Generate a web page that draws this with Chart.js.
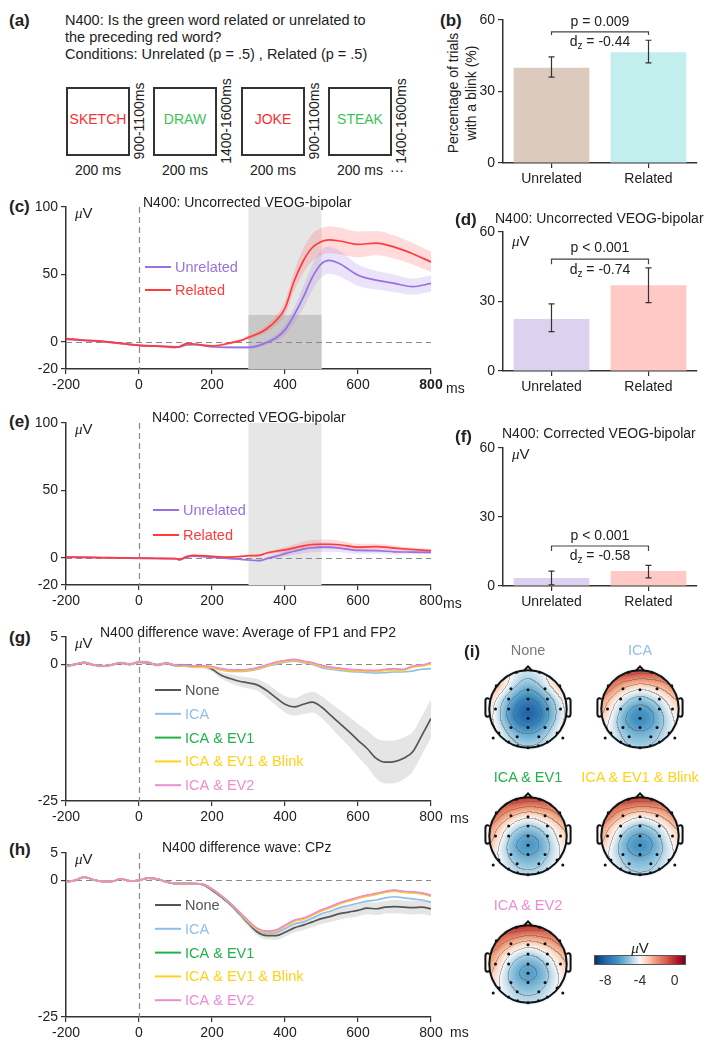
<!DOCTYPE html>
<html>
<head>
<meta charset="utf-8">
<title>N400 blink figure</title>
<script src="https://cdn.jsdelivr.net/npm/chart.js@4.4.1/dist/chart.umd.min.js"></script>
<style>
  html, body { margin: 0; padding: 0; background: #fff; }
  body { position: relative; width: 715px; height: 1049px; overflow: hidden;
         font-family: "Liberation Sans", Arial, Helvetica, sans-serif; color: #222; }
  canvas { position: absolute; }
  .t { position: absolute; white-space: nowrap; line-height: 1; }
  .rot { position: absolute; white-space: nowrap; line-height: 1; font-size: 14px;
         transform: translate(-50%, -50%) rotate(-90deg); }
  .box { position: absolute; border: 2px solid #333; box-sizing: border-box; width: 64px; height: 69px;
         display: flex; align-items: center; justify-content: center; font-size: 14px; padding-bottom: 6px; }
  .mu { font-family: "Liberation Serif", serif; font-style: italic; }
</style>
</head>
<body>
<script>
// ---------------------------------------------
// data
// ---------------------------------------------
const timeTicks = [-200, 0, 200, 400, 600, 800]

// (b) blink percentage
const barCats = ['Unrelated', 'Related']
const barTicks = [0, 30, 60]
const blinkPct = [40, 46.5]
const blinkLo = [36, 42]
const blinkHi = [44.5, 51.5]

// (d) uncorrected VEOG amplitude
const uncorrAmp = [22.5, 37]
const uncorrLo = [17, 29.5]
const uncorrHi = [29, 44.5]

// (f) corrected VEOG amplitude
const corrAmp = [3.5, 6.5]
const corrLo = [0.5, 3.5]
const corrHi = [6.5, 9]

// (c) / (e) VEOG waveforms
const tVeog = [-200, -150, -100, -50, 0, 50, 100, 110, 130, 150, 200, 250, 280, 300, 330, 350, 375, 400, 425, 450, 475, 500, 520, 550, 600, 650, 700, 750, 800]
const unrelC = [2, 1.2, 0.3, -1, -2.5, -3, -3.5, -3.8, -2.2, -2, -3.5, -4, -4, -4, -2.5, -0.3, 3, 9, 20, 33, 48, 58, 60.5, 58, 49.5, 45.8, 43.4, 41, 43.4]
const relC   = [2.5, 1.3, 0.5, -1, -2.5, -3, -4, -3.5, -1.2, -1.5, -3, -0.7, 1.2, 3.4, 6.6, 9.8, 15.7, 25, 45, 60, 70, 74.5, 75.7, 74.8, 72.3, 73.3, 70.3, 65.4, 59.3]
const unrelCsem = [0.8, 0.8, 0.8, 0.8, 0.8, 0.8, 0.8, 0.8, 0.8, 0.8, 0.9, 1, 1, 1, 1.3, 1.8, 2.5, 4, 6, 8, 9.5, 10, 10, 9.5, 8, 7, 6.5, 6, 6]
const relCsem   = [0.8, 0.8, 0.8, 0.8, 0.8, 0.8, 0.8, 0.8, 0.8, 0.8, 0.9, 1, 1.2, 1.5, 2, 2.5, 3.5, 5, 7, 9, 10, 10, 10, 10, 9.5, 9, 8.5, 8, 7.5]
const unrelE = [0.5, 0.4, 0.2, 0, -0.3, -0.4, -0.5, -1.5, 0.5, 1.3, 0.5, -0.5, -1, -1.5, -2, -0.5, 1.2, 3.2, 5, 6.6, 7.6, 8, 8, 7.3, 5.6, 5.4, 4.6, 4.4, 4.1]
const relE   = [0.7, 0.5, 0.3, 0.1, 0, -0.2, -0.5, -1, 1, 2, 1.2, 0.7, 1.2, 1.7, 2, 3.7, 5, 6, 7.5, 9, 10, 10.2, 10.2, 9.8, 8, 8.5, 7.3, 6.3, 5.4]
const semE   = [0.4, 0.4, 0.4, 0.4, 0.4, 0.4, 0.4, 0.4, 0.4, 0.4, 0.4, 0.5, 0.5, 0.6, 0.8, 1, 1.5, 2, 2.5, 3, 3.3, 3.5, 3.5, 3, 2.5, 2, 1.8, 1.5, 1.2]
const erpWindow = [300, 500]
const blinkBand = [-20, 20]

// (g) / (h) difference waves, every 25 ms from -200 to 800
const tDiff = [-200, -175, -150, -125, -100, -75, -50, -25, 0, 25, 50, 75, 100, 125, 150, 175, 200, 225, 250, 275, 300, 325, 350, 375, 400, 425, 450, 475, 500, 525, 550, 575, 600, 625, 650, 675, 700, 725, 750, 775, 800]
const noneG  = [-0.4, 0, 0.3, -0.1, -0.3, -0.1, 0.25, 0, 0.4, 0.3, -0.1, 0.2, -0.2, -0.2, -0.4, -0.4, -0.9, -2, -2.6, -3.1, -3.4, -3.8, -4.8, -6.1, -7.3, -7.8, -7.3, -6.9, -7.8, -9.3, -10.8, -12.3, -13.9, -15.4, -17.2, -17.9, -17.8, -17.2, -16, -13, -9.9]
const noneGsem = [0.3, 0.3, 0.3, 0.3, 0.3, 0.3, 0.3, 0.3, 0.3, 0.3, 0.3, 0.3, 0.3, 0.3, 0.3, 0.3, 0.4, 0.6, 0.8, 0.9, 1.0, 1.1, 1.3, 1.4, 1.5, 1.6, 1.8, 1.9, 2, 2.2, 2.5, 2.7, 3, 3.3, 3.7, 3.9, 3.9, 3.8, 3.6, 3.5, 3.5]
const icaG   = [-0.4, 0, 0.3, -0.1, -0.3, -0.1, 0.25, 0, 0.4, 0.3, -0.1, 0.2, -0.2, -0.3, -0.5, -0.5, -0.6, -1.0, -1.3, -1.3, -1.2, -0.9, -0.4, 0, 0.4, 0.6, 0.3, 0, -0.6, -0.9, -1.1, -1.3, -1.4, -1.5, -1.6, -1.5, -1.4, -1.4, -1.2, -0.9, -0.8]
const ev1G   = [-0.4, 0, 0.3, -0.1, -0.3, -0.1, 0.25, 0, 0.4, 0.3, -0.1, 0.2, -0.2, -0.2, -0.4, -0.4, -0.5, -0.9, -1.1, -1.1, -1.0, -0.7, -0.2, 0.3, 0.6, 0.8, 0.5, 0.2, -0.3, -0.6, -0.8, -1.0, -1.1, -1.2, -1.2, -1.0, -0.9, -1.0, -0.4, -0.2, 0.2]
const blinkG = [-0.4, 0, 0.3, -0.1, -0.3, -0.1, 0.25, 0, 0.4, 0.3, -0.1, 0.2, -0.2, -0.3, -0.5, -0.5, -0.6, -1.0, -1.2, -1.2, -1.1, -0.8, -0.3, 0.2, 0.5, 0.7, 0.4, 0.1, -0.4, -0.7, -0.9, -1.1, -1.2, -1.3, -1.3, -1.1, -1.0, -1.1, -0.5, -0.3, 0.1]
const ev2G   = [-0.4, 0, 0.3, -0.1, -0.3, -0.1, 0.25, 0, 0.4, 0.3, -0.1, 0.2, -0.2, -0.2, -0.3, -0.3, -0.4, -0.8, -1.0, -1.0, -0.9, -0.6, -0.1, 0.4, 0.7, 0.9, 0.6, 0.3, -0.2, -0.5, -0.7, -0.9, -1.0, -1.1, -1.1, -0.9, -0.8, -0.9, -0.3, -0.1, 0.3]

const noneH  = [-0.3, 0, 0.6, 0.1, -0.2, -0.2, 0.25, -0.1, 0, 0.4, 0.25, -0.3, -0.6, -0.6, -0.6, -0.8, -1.8, -3, -4.4, -6.1, -7.9, -9.5, -10.1, -10.1, -9.5, -8.7, -8.2, -7.6, -7, -6.6, -6.1, -5.8, -5.5, -5.1, -5.2, -4.9, -4.8, -4.9, -5, -4.9, -5.2]
const noneHsem = [0.2, 0.2, 0.2, 0.2, 0.2, 0.2, 0.2, 0.2, 0.2, 0.2, 0.2, 0.2, 0.2, 0.2, 0.2, 0.2, 0.3, 0.35, 0.4, 0.5, 0.6, 0.65, 0.7, 0.75, 0.8, 0.85, 0.9, 0.95, 1.0, 1.0, 1.05, 1.05, 1.1, 1.1, 1.15, 1.15, 1.2, 1.2, 1.25, 1.25, 1.3]
const icaH   = [-0.3, 0, 0.6, 0.1, -0.2, -0.2, 0.25, -0.1, 0, 0.4, 0.25, -0.3, -0.6, -0.6, -0.6, -0.8, -1.7, -2.9, -4.3, -6.0, -7.7, -9.1, -9.7, -9.6, -8.8, -8.0, -7.6, -6.9, -6.1, -5.6, -5.0, -4.6, -4.2, -3.8, -3.6, -3.2, -3.0, -3.2, -3.4, -3.6, -4.0]
const ev1H   = [-0.3, 0, 0.6, 0.1, -0.2, -0.2, 0.25, -0.1, 0, 0.4, 0.25, -0.3, -0.6, -0.6, -0.6, -0.7, -1.6, -2.8, -4.2, -5.8, -7.5, -8.9, -9.4, -9.2, -8.3, -7.4, -7.0, -6.3, -5.5, -4.9, -4.2, -3.7, -3.2, -2.8, -2.5, -2.1, -1.9, -2.1, -2.2, -2.4, -2.8]
const blinkH = [-0.3, 0, 0.6, 0.1, -0.2, -0.2, 0.25, -0.1, 0, 0.4, 0.25, -0.3, -0.6, -0.6, -0.6, -0.7, -1.6, -2.8, -4.2, -5.9, -7.6, -9.0, -9.5, -9.3, -8.4, -7.5, -7.1, -6.4, -5.6, -5.0, -4.3, -3.8, -3.3, -2.9, -2.6, -2.2, -2.0, -2.2, -2.3, -2.5, -2.9]
const ev2H   = [-0.3, 0, 0.6, 0.1, -0.2, -0.2, 0.25, -0.1, 0, 0.4, 0.25, -0.3, -0.6, -0.6, -0.6, -0.7, -1.6, -2.8, -4.2, -5.8, -7.4, -8.8, -9.3, -9.1, -8.2, -7.3, -6.9, -6.2, -5.4, -4.8, -4.1, -3.6, -3.1, -2.7, -2.4, -2.0, -1.8, -2.0, -2.1, -2.3, -2.7]

// (i) scalp maps, 300-500 ms
const elecNames = ['Fp1','Fp2','F7','F3','Fz','F4','F8','FC3','FCz','FC4','C5','C3','Cz','C4','C6','CPz','P7','P3','Pz','P4','P8','P9','P10','PO7','PO3','PO4','PO8','O1','Oz','O2']
const elecX = [-0.3, 0.3, -0.82, -0.44, 0, 0.44, 0.82, -0.5, 0, 0.5, -0.84, -0.5, 0, 0.5, 0.84, 0, -0.75, -0.44, 0, 0.44, 0.75, -0.9, 0.9, -0.5, -0.28, 0.28, 0.5, -0.27, 0, 0.27]
const elecY = [0.95, 0.95, 0.6, 0.52, 0.5, 0.52, 0.6, 0.26, 0.26, 0.26, 0, 0, 0, 0, 0, -0.24, -0.62, -0.48, -0.48, -0.48, -0.62, -0.75, -0.75, -0.85, -0.72, -0.72, -0.85, -0.95, -1.0, -0.95]
const topoNone  = [-4.4, -4.4, -0.8, -4.0, -5.4, -4.0, -1.4, -6.3, -8.0, -6.3, -2.2, -7.3, -9.2, -7.3, -2.7, -9.0, -3.6, -6.8, -7.8, -6.8, -3.6, -2.6, -2.6, -4.2, -5.5, -5.5, -4.2, -4.4, -4.7, -4.4]
const topoICA   = [0.8, 0.5, 0.5, -2.8, -3.5, -3.0, -0.5, -4.8, -5.8, -5.0, -1.5, -6.0, -7.4, -6.0, -2.5, -7.5, -3.5, -6.5, -7.0, -6.5, -3.8, -3.0, -3.2, -4.5, -5.6, -5.6, -4.5, -4.6, -4.8, -4.6]
const topoEV1   = [0.9, 0.6, 0.6, -2.6, -3.3, -2.8, -0.3, -4.6, -5.5, -4.8, -1.4, -5.8, -7.0, -5.8, -2.3, -7.2, -3.3, -6.2, -6.8, -6.2, -3.6, -2.8, -3.0, -4.3, -5.4, -5.4, -4.3, -4.4, -4.6, -4.4]
const topoBlink = [0.9, 0.6, 0.6, -2.7, -3.4, -2.9, -0.4, -4.7, -5.6, -4.9, -1.5, -5.9, -7.1, -5.9, -2.4, -7.3, -3.4, -6.3, -6.9, -6.3, -3.7, -2.9, -3.1, -4.4, -5.5, -5.5, -4.4, -4.5, -4.7, -4.5]
const topoEV2   = [1.0, 0.7, 0.6, -2.4, -3.1, -2.6, -0.2, -4.4, -5.3, -4.6, -1.3, -5.6, -6.8, -5.7, -2.2, -7.0, -3.2, -6.0, -6.6, -6.1, -3.5, -2.7, -2.9, -4.2, -5.3, -5.3, -4.2, -4.3, -4.5, -4.3]
const topoMin = -9.3
const topoMax = 1.3
const colorbarTicks = [-8, -4, 0]

// ---------------------------------------------
// styles
// ---------------------------------------------
const FONT = '"Liberation Sans", Arial, Helvetica, sans-serif'
Chart.defaults.font.family = FONT
Chart.defaults.font.size = 14
Chart.defaults.color = '#222'

const C = {
  unrel: '#9a6fe0', unrelBand: 'rgba(155,115,225,0.2)',
  rel: '#ff3b3b', relBand: 'rgba(255,90,90,0.22)',
  none: '#555555', noneBand: 'rgba(150,150,150,0.25)',
  ica: '#8fbfe8', ev1: '#22b14c', blink: '#ffd21a', ev2: '#f08bd2'
}

const cmapStops = [
  [0.00, [5, 48, 97]], [0.12, [33, 102, 172]], [0.26, [67, 147, 195]], [0.38, [146, 197, 222]],
  [0.45, [209, 229, 240]], [0.50, [247, 247, 247]], [0.56, [253, 219, 199]], [0.65, [244, 165, 130]],
  [0.78, [214, 96, 77]], [0.90, [178, 24, 43]], [1.00, [103, 0, 31]]
]

// ---------------------------------------------
// helpers
// ---------------------------------------------
function mount(left, top, w, h) {
  const c = document.createElement('canvas')
  c.width = w; c.height = h
  c.style.cssText = `left:${left}px;top:${top}px;width:${w}px;height:${h}px`
  document.body.appendChild(c)
  return c
}

function txt(html, x, cy, o = {}) {
  const el = document.createElement('div')
  const size = o.size || 14
  el.className = 't'
  el.innerHTML = html
  el.style.left = x + 'px'
  el.style.top = (cy - size * 0.52) + 'px'
  el.style.fontSize = size + 'px'
  if (o.color) el.style.color = o.color
  if (o.bold) el.style.fontWeight = 'bold'
  if (o.center) el.style.transform = 'translateX(-50%)'
  document.body.appendChild(el)
  return el
}

function rot(text, cx, cy) {
  const el = document.createElement('div')
  el.className = 'rot'
  el.textContent = text
  el.style.left = cx + 'px'
  el.style.top = cy + 'px'
  document.body.appendChild(el)
}

const axisBorder = { color: '#333', width: 1.5 }
const axisGrid = { drawOnChartArea: false, color: '#333', lineWidth: 1.2, tickLength: 5 }

function pts(times, vals) { return times.map((t, i) => ({ x: t, y: vals[i] })) }

function band(times, mean, sem, color) {
  return [
    { data: times.map((t, i) => ({ x: t, y: mean[i] + sem[i] })), borderWidth: 0, fill: false, order: 20 },
    { data: times.map((t, i) => ({ x: t, y: mean[i] - sem[i] })), borderWidth: 0, fill: '-1', backgroundColor: color, order: 20 }
  ]
}

function line(label, times, vals, color, order) {
  return { label, data: pts(times, vals), borderColor: color, borderWidth: 1.7, fill: false, order, isMean: true }
}

// shading, zero lines and in-plot legend for the waveform panels
function erpDecor(o) {
  return {
    id: 'erpDecor',
    beforeDatasetsDraw(chart) {
      const { ctx, chartArea: a, scales: { x, y } } = chart
      ctx.save()
      if (o.shade) {
        const x1 = x.getPixelForValue(o.shade[0]), x2 = x.getPixelForValue(o.shade[1])
        ctx.fillStyle = '#e6e6e6'
        ctx.fillRect(x1, a.top, x2 - x1, a.bottom - a.top)
        if (o.darkShade) {
          const y1 = y.getPixelForValue(o.darkShade[1]), y2 = y.getPixelForValue(o.darkShade[0])
          ctx.fillStyle = '#c8c8c8'
          ctx.fillRect(x1, y1, x2 - x1, y2 - y1)
        }
      }
      ctx.setLineDash([6, 4])
      ctx.strokeStyle = '#8a8a8a'
      ctx.lineWidth = 1.2
      const x0 = Math.round(x.getPixelForValue(0)) + 0.5, y0 = Math.round(y.getPixelForValue(0)) + 0.5
      ctx.beginPath()
      ctx.moveTo(x0, a.top); ctx.lineTo(x0, a.bottom)
      ctx.moveTo(a.left, y0); ctx.lineTo(a.right, y0)
      ctx.stroke()
      ctx.restore()
    },
    afterDatasetsDraw(chart) {
      const { ctx, chartArea: a } = chart
      const items = chart.data.datasets.filter(d => d.isMean)
      ctx.save()
      ctx.font = `14.5px ${FONT}`
      ctx.textBaseline = 'middle'
      items.forEach((d, k) => {
        const yy = a.top + o.legend.y + k * o.legend.dy
        const xx = a.left + o.legend.x
        ctx.strokeStyle = d.borderColor
        ctx.lineWidth = 2
        ctx.beginPath(); ctx.moveTo(xx, yy); ctx.lineTo(xx + 26, yy); ctx.stroke()
        ctx.fillStyle = d.borderColor
        ctx.fillText(d.label, xx + 30, yy + 1)
      })
      ctx.restore()
    }
  }
}

function erpChart(canvas, o) {
  return new Chart(canvas, {
    type: 'line',
    data: { datasets: o.datasets },
    options: {
      responsive: false, animation: false, devicePixelRatio: 1,
      layout: { padding: { top: o.padTop, right: 29, left: 0, bottom: 0 } },
      elements: { point: { radius: 0 }, line: { cubicInterpolationMode: 'monotone' } },
      plugins: { legend: { display: false }, tooltip: { enabled: false } },
      scales: {
        x: {
          type: 'linear', min: -200, max: 800,
          border: axisBorder, grid: axisGrid,
          afterBuildTicks: s => { s.ticks = timeTicks.map(v => ({ value: v })) },
          afterFit: s => { s.height = o.axisH },
          ticks: {
            color: '#222', padding: 3, maxRotation: 0, autoSkip: false,
            font: ctx => ({ size: 14, weight: (o.boldEnd && ctx.tick && ctx.tick.value === 800) ? 'bold' : 'normal' })
          }
        },
        y: {
          type: 'linear', min: o.yMin, max: o.yMax,
          border: axisBorder, grid: axisGrid,
          afterBuildTicks: s => { s.ticks = o.yTicks.map(v => ({ value: v })) },
          afterFit: s => { s.width = 66 },
          ticks: { color: '#222', padding: 3, autoSkip: false, font: { size: 14 } }
        }
      }
    },
    plugins: [erpDecor(o)]
  })
}

function drawDz(ctx, cx, cy, rest) {
  ctx.font = `14px ${FONT}`
  const wd = ctx.measureText('d').width
  const tail = ' = ' + rest
  const wt = ctx.measureText(tail).width
  ctx.font = `10px ${FONT}`
  const wz = ctx.measureText('z').width
  let x = cx - (wd + wz + wt) / 2
  ctx.textAlign = 'left'
  ctx.font = `14px ${FONT}`
  ctx.fillText('d', x, cy)
  ctx.font = `10px ${FONT}`
  ctx.fillText('z', x + wd, cy + 4)
  ctx.font = `14px ${FONT}`
  ctx.fillText(tail, x + wd + wz, cy)
}

// error bars and significance bracket
function barDecor(o) {
  return {
    id: 'barDecor',
    afterDatasetsDraw(chart) {
      const { ctx, scales: { y } } = chart
      const meta = chart.getDatasetMeta(0)
      ctx.save()
      ctx.strokeStyle = '#333'
      ctx.lineWidth = 1.2
      meta.data.forEach((bar, i) => {
        const yl = y.getPixelForValue(o.lo[i]), yh = y.getPixelForValue(o.hi[i])
        ctx.beginPath()
        ctx.moveTo(bar.x, yl); ctx.lineTo(bar.x, yh)
        ctx.moveTo(bar.x - 3, yl); ctx.lineTo(bar.x + 3, yl)
        ctx.moveTo(bar.x - 3, yh); ctx.lineTo(bar.x + 3, yh)
        ctx.stroke()
      })
      const xa = meta.data[0].x, xb = meta.data[1].x
      const yb = y.getPixelForValue(o.bracket.y), yd = y.getPixelForValue(o.bracket.y - o.bracket.drop)
      ctx.strokeStyle = '#444'
      ctx.beginPath()
      ctx.moveTo(xa, yd); ctx.lineTo(xa, yb); ctx.lineTo(xb, yb); ctx.lineTo(xb, yd)
      ctx.stroke()
      ctx.fillStyle = '#222'
      ctx.textBaseline = 'middle'
      ctx.textAlign = 'center'
      ctx.font = `14px ${FONT}`
      const xm = (xa + xb) / 2
      ctx.fillText(o.bracket.p, xm, y.getPixelForValue(o.bracket.pY))
      drawDz(ctx, xm, y.getPixelForValue(o.bracket.dzY), o.bracket.dz)
      ctx.restore()
    }
  }
}

function barChart(canvas, o) {
  return new Chart(canvas, {
    type: 'bar',
    data: { labels: barCats, datasets: [{ data: o.values, backgroundColor: o.colors, barPercentage: 0.78, categoryPercentage: 1 }] },
    options: {
      responsive: false, animation: false, devicePixelRatio: 1,
      layout: { padding: { top: o.padTop, right: 18, left: 0, bottom: 0 } },
      plugins: { legend: { display: false }, tooltip: { enabled: false } },
      scales: {
        x: {
          border: axisBorder, grid: { ...axisGrid, offset: false },
          ticks: { color: '#222', padding: 3, font: { size: 14 } },
          afterFit: s => { s.height = o.axisH }
        },
        y: {
          min: 0, max: 60,
          border: axisBorder, grid: axisGrid,
          afterBuildTicks: s => { s.ticks = barTicks.map(v => ({ value: v })) },
          afterFit: s => { s.width = 33 },
          ticks: { color: '#222', padding: 3, font: { size: 14 } }
        }
      }
    },
    plugins: [barDecor(o)]
  })
}

function cmap(v) {
  let t = (v - topoMin) / (topoMax - topoMin)
  t = Math.max(0, Math.min(1, t))
  for (let k = 1; k < cmapStops.length; k++) {
    const [t1, c1] = cmapStops[k]
    if (t <= t1) {
      const [t0, c0] = cmapStops[k - 1]
      const f = (t - t0) / (t1 - t0)
      return [0, 1, 2].map(j => c0[j] + (c1[j] - c0[j]) * f)
    }
  }
  return cmapStops[cmapStops.length - 1][1]
}

// scalp field (smoothed from electrode values), contours and head outline
function topoDecor(values) {
  return {
    id: 'topo',
    beforeDatasetsDraw(chart) {
      const { ctx, scales: { x, y } } = chart
      const cx = x.getPixelForValue(0), cy = y.getPixelForValue(0)
      const R = x.getPixelForValue(1) - cx
      const ext = 1.08
      const x0 = Math.floor(cx - R * ext), y0 = Math.floor(cy - R * ext)
      const n = Math.ceil(2 * R * ext) + 2
      const field = new Float32Array(n * n).fill(NaN)
      const rad = new Float32Array(n * n)
      const s2 = 2 * 0.28 * 0.28
      for (let j = 0; j < n; j++) {
        for (let i = 0; i < n; i++) {
          const ux = x.getValueForPixel(x0 + i + 0.5), uy = y.getValueForPixel(y0 + j + 0.5)
          const r = Math.hypot(ux, uy)
          rad[j * n + i] = r
          if (r > ext) continue
          let sw = 0, sv = 0
          for (let e = 0; e < elecX.length; e++) {
            const dx = ux - elecX[e], dy = uy - elecY[e]
            const w = Math.exp(-(dx * dx + dy * dy) / s2)
            sw += w; sv += w * values[e]
          }
          field[j * n + i] = sv / sw
        }
      }
      const img = ctx.createImageData(n, n)
      for (let j = 0; j < n; j++) {
        for (let i = 0; i < n; i++) {
          const k = j * n + i
          const v = field[k]
          if (isNaN(v)) continue
          const r = rad[k]
          let col, a
          if (r <= 1) {
            col = cmap(v)
            const lv = Math.floor(v)
            const vr = i + 1 < n ? field[k + 1] : NaN
            const vd = j + 1 < n ? field[k + n] : NaN
            if ((!isNaN(vr) && rad[k + 1] <= 1 && Math.floor(vr) !== lv) || (!isNaN(vd) && rad[k + n] <= 1 && Math.floor(vd) !== lv)) {
              col = col.map(c => c * 0.55 + 90 * 0.45)
            }
            a = 255
          } else {
            col = [214, 232, 243]
            a = Math.max(0, (ext - r) / (ext - 1)) * 220
          }
          img.data[k * 4] = col[0]; img.data[k * 4 + 1] = col[1]; img.data[k * 4 + 2] = col[2]; img.data[k * 4 + 3] = a
        }
      }
      ctx.putImageData(img, x0, y0)

      ctx.save()
      ctx.strokeStyle = '#111'
      ctx.lineWidth = 2
      ctx.beginPath(); ctx.arc(cx, cy, R, 0, Math.PI * 2); ctx.stroke()
      ctx.beginPath()
      ctx.moveTo(cx - 0.1 * R, cy - 0.995 * R); ctx.lineTo(cx, cy - 1.1 * R); ctx.lineTo(cx + 0.1 * R, cy - 0.995 * R)
      ctx.stroke()
      for (const s of [-1, 1]) {
        ctx.beginPath()
        ctx.moveTo(cx + s * R * 0.99, cy - 0.26 * R)
        ctx.lineTo(cx + s * R * 1.05, cy - 0.28 * R)
        ctx.quadraticCurveTo(cx + s * R * 1.1, cy - 0.28 * R, cx + s * R * 1.1, cy - 0.2 * R)
        ctx.lineTo(cx + s * R * 1.1, cy + 0.12 * R)
        ctx.quadraticCurveTo(cx + s * R * 1.1, cy + 0.2 * R, cx + s * R * 1.05, cy + 0.2 * R)
        ctx.lineTo(cx + s * R * 0.99, cy + 0.18 * R)
        ctx.stroke()
      }
      ctx.restore()
    }
  }
}

function topoChart(cx, cy, values) {
  const canvas = mount(cx - 52, cy - 52, 104, 104)
  return new Chart(canvas, {
    type: 'scatter',
    data: { datasets: [{ data: elecX.map((x, i) => ({ x, y: elecY[i] })), pointRadius: 1.5, backgroundColor: '#111', borderWidth: 0 }] },
    options: {
      responsive: false, animation: false, devicePixelRatio: 1,
      layout: { padding: 0 },
      plugins: { legend: { display: false }, tooltip: { enabled: false } },
      scales: {
        x: { type: 'linear', min: -1.24, max: 1.24, display: false },
        y: { type: 'linear', min: -1.24, max: 1.24, display: false }
      }
    },
    plugins: [topoDecor(values)]
  })
}

// =============================================
// (a) task
// =============================================
txt('(a)', 9, 21, { size: 17, bold: true })
txt('N400: Is the green word related or unrelated to', 65, 21, { size: 14.5 })
txt('the preceding red word?', 65, 38, { size: 14.5 })
txt('Conditions: Unrelated (p = .5) , Related (p = .5)', 65, 55, { size: 14.5 })

const stimWords = ['SKETCH', 'DRAW', 'JOKE', 'STEAK']
const stimColors = ['#ff2d2d', '#3cc25a', '#ff2d2d', '#3cc25a']
const stimLeft = [66, 153, 241, 328]
const isiText = ['900-1100ms', '1400-1600ms', '900-1100ms', '1400-1600ms']
stimWords.forEach((w, i) => {
  const b = document.createElement('div')
  b.className = 'box'
  b.style.left = stimLeft[i] + 'px'
  b.style.top = '87px'
  b.style.color = stimColors[i]
  b.textContent = w
  document.body.appendChild(b)
  txt('200 ms', stimLeft[i] + 32, 170, { center: true })
  rot(isiText[i], stimLeft[i] + 73, 121)
})
txt('···', 390, 170)

// =============================================
// (b) blink percentage
// =============================================
txt('(b)', 440, 21, { size: 17, bold: true })
rot('Percentage of trials', 453, 93)
rot('with a blink (%)', 471, 93)
barChart(mount(470, 0, 245, 200), {
  values: blinkPct, lo: blinkLo, hi: blinkHi, colors: ['#dccabe', '#c3eeee'],
  padTop: 20, axisH: 37,
  bracket: { y: 55, drop: 1.3, pY: 59.2, dzY: 50.8, p: 'p = 0.009', dz: '-0.44' }
})

// =============================================
// (c) uncorrected VEOG waveform
// =============================================
txt('(c)', 9, 207, { size: 17, bold: true })
erpChart(mount(0, 195, 460, 205), {
  datasets: [
    ...band(tVeog, unrelC, unrelCsem, C.unrelBand),
    ...band(tVeog, relC, relCsem, C.relBand),
    line('Unrelated', tVeog, unrelC, C.unrel, 2),
    line('Related', tVeog, relC, C.rel, 1)
  ],
  yMin: -20, yMax: 100, yTicks: [-20, 0, 50, 100],
  padTop: 12, axisH: 31, boldEnd: true,
  shade: erpWindow, darkShade: blinkBand,
  legend: { x: 79, y: 60, dy: 23 }
})
txt('N400: Uncorrected VEOG-bipolar', 143, 202)
txt('<span class="mu">μ</span>V', 75, 213, { size: 15 })
txt('ms', 446, 388)

// =============================================
// (d) uncorrected VEOG amplitude
// =============================================
txt('(d)', 455, 220, { size: 17, bold: true })
barChart(mount(470, 200, 245, 200), {
  values: uncorrAmp, lo: uncorrLo, hi: uncorrHi, colors: ['#ddd1f0', '#ffc9c6'],
  padTop: 32, axisH: 29,
  bracket: { y: 48.3, drop: 2.2, pY: 53, dzY: 43.6, p: 'p < 0.001', dz: '-0.74' }
})
txt('N400: Uncorrected VEOG-bipolar', 495, 218)
txt('<span class="mu">μ</span>V', 512, 241, { size: 15 })

// =============================================
// (e) corrected VEOG waveform
// =============================================
txt('(e)', 9, 422, { size: 17, bold: true })
erpChart(mount(0, 410, 460, 205), {
  datasets: [
    ...band(tVeog, unrelE, semE, C.unrelBand),
    ...band(tVeog, relE, semE, C.relBand),
    line('Unrelated', tVeog, unrelE, C.unrel, 2),
    line('Related', tVeog, relE, C.rel, 1)
  ],
  yMin: -20, yMax: 100, yTicks: [-20, 0, 50, 100],
  padTop: 13, axisH: 30,
  shade: erpWindow,
  legend: { x: 87, y: 87, dy: 25 }
})
txt('N400: Corrected VEOG-bipolar', 152, 417)
txt('<span class="mu">μ</span>V', 75, 429, { size: 15 })
txt('ms', 443, 603)

// =============================================
// (f) corrected VEOG amplitude
// =============================================
txt('(f)', 455, 437, { size: 17, bold: true })
barChart(mount(470, 415, 245, 200), {
  values: corrAmp, lo: corrLo, hi: corrHi, colors: ['#ddd1f0', '#ffc9c6'],
  padTop: 33, axisH: 29,
  bracket: { y: 17.4, drop: 2.2, pY: 21.5, dzY: 13, p: 'p < 0.001', dz: '-0.58' }
})
txt('N400: Corrected VEOG-bipolar', 502, 433)
txt('<span class="mu">μ</span>V', 512, 454, { size: 15 })

// =============================================
// (g) difference wave FP1/FP2
// =============================================
txt('(g)', 9, 638, { size: 17, bold: true })
erpChart(mount(0, 625, 460, 205), {
  datasets: [
    ...band(tDiff, noneG, noneGsem, C.noneBand),
    line('None', tDiff, noneG, C.none, 5),
    line('ICA', tDiff, icaG, C.ica, 4),
    line('ICA & EV1', tDiff, ev1G, C.ev1, 3),
    line('ICA & EV1 & Blink', tDiff, blinkG, C.blink, 2),
    line('ICA & EV2', tDiff, ev2G, C.ev2, 1)
  ],
  yMin: -25, yMax: 5, yTicks: [-25, 0, 5],
  padTop: 12, axisH: 29,
  legend: { x: 89, y: 53, dy: 23.8 }
})
txt('N400 difference wave: Average of FP1 and FP2', 100, 632)
txt('<span class="mu">μ</span>V', 75, 643, { size: 15 })
txt('ms', 450, 818)

// =============================================
// (h) difference wave CPz
// =============================================
txt('(h)', 9, 850, { size: 17, bold: true })
erpChart(mount(0, 840, 460, 209), {
  datasets: [
    ...band(tDiff, noneH, noneHsem, C.noneBand),
    line('None', tDiff, noneH, C.none, 5),
    line('ICA', tDiff, icaH, C.ica, 4),
    line('ICA & EV1', tDiff, ev1H, C.ev1, 3),
    line('ICA & EV1 & Blink', tDiff, blinkH, C.blink, 2),
    line('ICA & EV2', tDiff, ev2H, C.ev2, 1)
  ],
  yMin: -25, yMax: 5, yTicks: [-25, 0, 5],
  padTop: 13, axisH: 32,
  legend: { x: 89, y: 52, dy: 23.8 }
})
txt('N400 difference wave: CPz', 162, 847)
txt('<span class="mu">μ</span>V', 75, 859, { size: 15 })
txt('ms', 450, 1032)

// =============================================
// (i) scalp maps
// =============================================
txt('(i)', 464, 652, { size: 17, bold: true })
const maps = [
  { name: 'None', vals: topoNone, color: '#7a7a7a', cx: 528, cy: 709 },
  { name: 'ICA', vals: topoICA, color: C.ica, cx: 640, cy: 709 },
  { name: 'ICA &amp; EV1', vals: topoEV1, color: C.ev1, cx: 528, cy: 836 },
  { name: 'ICA &amp; EV1 &amp; Blink', vals: topoBlink, color: C.blink, cx: 640, cy: 836 },
  { name: 'ICA &amp; EV2', vals: topoEV2, color: C.ev2, cx: 528, cy: 964 }
]
maps.forEach(m => {
  topoChart(m.cx, m.cy, m.vals)
  txt(m.name, m.cx, m.cy - 58, { size: 14.5, color: m.color, center: true })
})

// colour bar
const cbarPlugin = {
  id: 'cbar',
  beforeDatasetsDraw(chart) {
    const { ctx, chartArea: a } = chart
    const g = ctx.createLinearGradient(a.left, 0, a.right, 0)
    cmapStops.forEach(([t, c]) => g.addColorStop(t, `rgb(${c[0]},${c[1]},${c[2]})`))
    ctx.save()
    ctx.fillStyle = g
    ctx.fillRect(a.left, a.top, a.right - a.left, a.bottom - a.top)
    ctx.strokeStyle = '#555'
    ctx.lineWidth = 1
    ctx.strokeRect(a.left + 0.5, a.top + 0.5, a.right - a.left - 1, a.bottom - a.top - 1)
    ctx.restore()
  }
}
new Chart(mount(574, 945, 132, 50), {
  type: 'scatter',
  data: { datasets: [{ data: [] }] },
  options: {
    responsive: false, animation: false, devicePixelRatio: 1,
    layout: { padding: { left: 20, right: 20, top: 10, bottom: 0 } },
    plugins: { legend: { display: false }, tooltip: { enabled: false } },
    scales: {
      x: {
        type: 'linear', min: topoMin, max: topoMax,
        border: { display: false }, grid: { display: false, drawTicks: false },
        afterBuildTicks: s => { s.ticks = colorbarTicks.map(v => ({ value: v })) },
        afterFit: s => { s.height = 30 },
        ticks: { color: '#333', padding: 8, font: { size: 14 } }
      },
      y: { min: 0, max: 1, display: false }
    }
  },
  plugins: [cbarPlugin]
})
txt('<span class="mu">μ</span>V', 640, 948, { size: 15, center: true })
</script>
</body>
</html>
